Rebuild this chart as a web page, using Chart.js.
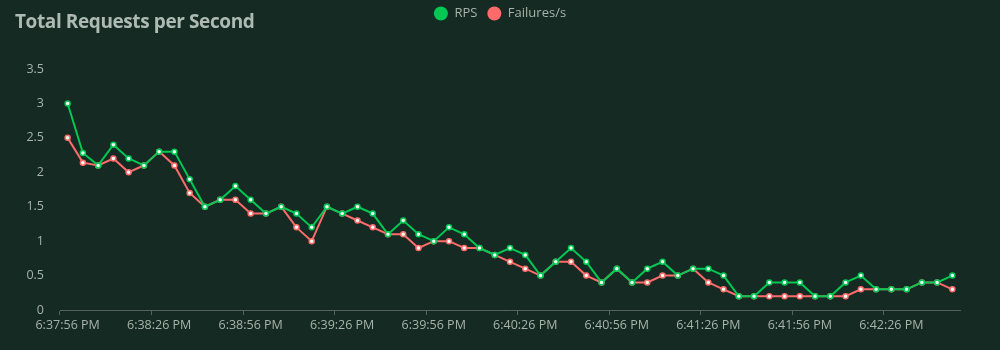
<!DOCTYPE html>
<html>
<head>
<meta charset="utf-8">
<script src="https://cdn.jsdelivr.net/npm/chart.js@4/dist/chart.umd.min.js"></script>
<style>
  html,body{margin:0;padding:0;background:#152a22;}
  #wrap{position:relative;width:1000px;height:350px;}
  #title{position:absolute;left:15px;top:8px;font:bold 19px "Open Sans",sans-serif;color:#aebbb4;letter-spacing:-0.4px;}
  canvas{position:absolute;left:0;top:0;}
</style>
</head>
<body>
<div id="wrap">
  <canvas id="rps" width="1000" height="350"></canvas>
  <div id="title">Total Requests per Second</div>
</div>
<script>
const times = [
  '6:37:56 PM','6:38:01 PM','6:38:06 PM','6:38:11 PM','6:38:16 PM','6:38:21 PM',
  '6:38:26 PM','6:38:31 PM','6:38:36 PM','6:38:41 PM','6:38:46 PM','6:38:51 PM',
  '6:38:56 PM','6:39:01 PM','6:39:06 PM','6:39:11 PM','6:39:16 PM','6:39:21 PM',
  '6:39:26 PM','6:39:31 PM','6:39:36 PM','6:39:41 PM','6:39:46 PM','6:39:51 PM',
  '6:39:56 PM','6:40:01 PM','6:40:06 PM','6:40:11 PM','6:40:16 PM','6:40:21 PM',
  '6:40:26 PM','6:40:31 PM','6:40:36 PM','6:40:41 PM','6:40:46 PM','6:40:51 PM',
  '6:40:56 PM','6:41:01 PM','6:41:06 PM','6:41:11 PM','6:41:16 PM','6:41:21 PM',
  '6:41:26 PM','6:41:31 PM','6:41:36 PM','6:41:41 PM','6:41:46 PM','6:41:51 PM',
  '6:41:56 PM','6:42:01 PM','6:42:06 PM','6:42:11 PM','6:42:16 PM','6:42:21 PM',
  '6:42:26 PM','6:42:31 PM','6:42:36 PM','6:42:41 PM','6:42:46 PM'
];
const rps = [
  3.0,2.28,2.1,2.4,2.2,2.1,2.3,2.3,1.9,1.5,
  1.6,1.8,1.6,1.4,1.5,1.4,1.2,1.5,1.4,1.5,
  1.4,1.1,1.3,1.1,1.0,1.2,1.1,0.9,0.8,0.9,
  0.8,0.5,0.7,0.9,0.7,0.4,0.6,0.4,0.6,0.7,
  0.5,0.6,0.6,0.5,0.2,0.2,0.4,0.4,0.4,0.2,
  0.2,0.4,0.5,0.3,0.3,0.3,0.4,0.4,0.5
];
const failures = [
  2.5,2.14,2.1,2.2,2.0,2.1,2.3,2.1,1.7,1.5,
  1.6,1.6,1.4,1.4,1.5,1.2,1.0,1.5,1.4,1.3,
  1.2,1.1,1.1,0.9,1.0,1.0,0.9,0.9,0.8,0.7,
  0.6,0.5,0.7,0.7,0.5,0.4,0.6,0.4,0.4,0.5,
  0.5,0.6,0.4,0.3,0.2,0.2,0.2,0.2,0.2,0.2,
  0.2,0.2,0.3,0.3,0.3,0.3,0.4,0.4,0.3
];
const yTicks = [0,0.5,1,1.5,2,2.5,3,3.5];
const labelEvery = 6;

const textColor = '#a7b3ad';
const axisColor = '#56625c';

function series(label, data, color){
  return {
    label, data,
    borderColor: color,
    backgroundColor: color,
    borderWidth: 2,
    pointRadius: 2.5,
    pointBorderWidth: 1.5,
    pointBackgroundColor: '#f2fff6',
    pointBorderColor: color,
    tension: 0
  };
}

// legend sits at the very top, chart area starts well below it
const legendBox = {
  id: 'legendBox',
  beforeLayout(chart){
    const lg = chart.legend;
    if(lg && !lg._tall){
      const fit = lg.fit.bind(lg);
      lg.fit = function(){ fit(); this.height = 72; };
      lg._tall = true;
    }
  },
  afterLayout(chart){
    const lg = chart.legend;
    if(lg){ lg.left = 0; lg.right = chart.width; lg.width = chart.width; }
  }
};

new Chart(document.getElementById('rps'), {
  type: 'line',
  data: {
    labels: times,
    datasets: [series('RPS', rps, '#00c853'), series('Failures/s', failures, '#ff6b6b')]
  },
  options: {
    responsive: false,
    animation: false,
    layout: {padding: {top: -3, right: 40, bottom: 0, left: 0}},
    plugins: {
      legend: {
        position: 'top',
        labels: {
          color: textColor,
          font: {family: '"Open Sans", sans-serif', size: 13},
          usePointStyle: true,
          pointStyle: 'circle',
          boxHeight: 10,
          boxWidth: 10,
          pointStyleWidth: 14,
          padding: 10,
          generateLabels(chart){
            const items = Chart.defaults.plugins.legend.labels.generateLabels(chart);
            items.forEach(it => { it.fillStyle = it.strokeStyle; it.lineWidth = 0; });
            return items;
          }
        }
      },
      tooltip: {enabled: false}
    },
    scales: {
      x: {
        offset: true,
        afterFit(scale){ scale.height = 40; },
        border: {display: true, color: axisColor, width: 1},
        grid: {
          offset: true,
          drawOnChartArea: false,
          drawTicks: true,
          tickLength: 5,
          color: ctx => (ctx.index % labelEvery === 0 || ctx.index === times.length) ? axisColor : 'rgba(0,0,0,0)'
        },
        ticks: {
          autoSkip: false,
          maxRotation: 0,
          padding: 3,
          color: textColor,
          font: {family: '"Open Sans", sans-serif', size: 12.5},
          callback(v, i){ return i % labelEvery === 0 ? times[i] : ''; }
        }
      },
      y: {
        min: 0,
        max: yTicks[yTicks.length - 1],
        afterFit(scale){ scale.width = 60; },
        afterBuildTicks(scale){ scale.ticks = yTicks.map(v => ({value: v})); },
        border: {display: false},
        grid: {display: false},
        ticks: {
          padding: 8,
          color: textColor,
          font: {family: '"Open Sans", sans-serif', size: 12.5},
          callback(v){ return String(v); }
        }
      }
    }
  },
  plugins: [legendBox]
});
</script>
</body>
</html>
